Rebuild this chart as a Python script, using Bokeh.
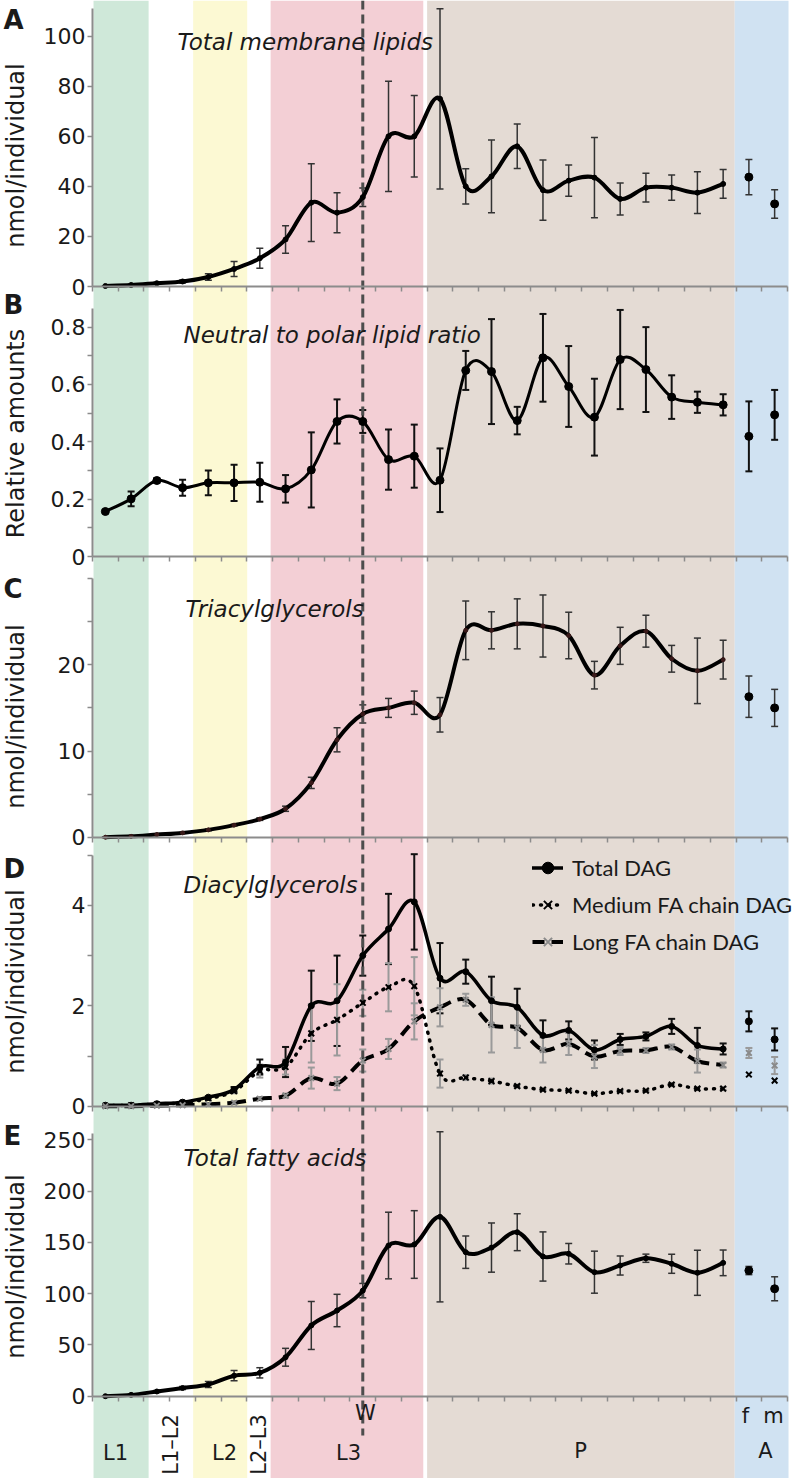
import math
from bokeh.plotting import figure
from bokeh.models import (Range1d, LinearAxis, FixedTicker, BoxAnnotation, Label,
                          Whisker, TeeHead, ColumnDataSource, Legend, LegendItem)
from bokeh.embed import file_html
from bokeh.resources import INLINE

# ---------------------------------------------------------------- data
N_CAT = 27                      # 25 larval/pupal samples + female + male adults
sample_idx = list(range(25))
adult_idx = [25, 26]
adult_names = ["f", "m"]
w_idx = 10                      # wandering stage sample

stage_names = ["L1", "L1\u2013L2", "L2", "L2\u2013L3", "L3", "P", "A"]
stage_start = [0.04, 2.18, 3.91, 6.01, 6.92, 13.0, 24.95]
stage_end = [2.18, 3.91, 6.01, 6.92, 12.85, 24.95, 27.04]
stage_color = ["#cfe8d9", None, "#fcf9d3", None, "#f3cfd5", "#e4dbd4", "#d0e2f2"]

# A  Total membrane lipids (nmol/individual)
membrane_mean = [0.2, 0.6, 1.3, 2.0, 3.8, 7.0, 11.3, 18.8, 33.5, 29.5, 35.7, 60.0, 60.0,
                 75.0, 40.0, 44.0, 56.0, 38.5, 42.3, 43.5, 35.0, 39.5, 39.5, 37.5, 41.0]
membrane_err = [0.1, 0.2, 0.4, 0.6, 1.3, 3.0, 4.0, 5.5, 15.5, 8.0, 3.7, 22.0, 16.3,
                36.0, 7.0, 14.5, 8.9, 12.0, 6.2, 16.0, 6.4, 5.7, 5.0, 8.3, 5.7]
membrane_adult = [43.7, 33.0]
membrane_adult_err = [7.0, 5.7]

# B  Neutral to polar lipid ratio
ratio_mean = [0.157, 0.201, 0.265, 0.240, 0.257, 0.257, 0.259, 0.236, 0.302, 0.471, 0.471,
              0.338, 0.350, 0.266, 0.649, 0.645, 0.474, 0.693, 0.593, 0.486, 0.687, 0.652,
              0.556, 0.538, 0.529]
ratio_err = [0.005, 0.026, 0.008, 0.028, 0.043, 0.063, 0.068, 0.048, 0.131, 0.077, 0.040,
             0.105, 0.110, 0.111, 0.068, 0.183, 0.048, 0.153, 0.141, 0.134, 0.173, 0.148,
             0.076, 0.037, 0.037]
ratio_adult = [0.419, 0.494]
ratio_adult_err = [0.122, 0.087]

# C  Triacylglycerols
tag_mean = [0.0, 0.1, 0.3, 0.5, 0.85, 1.4, 2.1, 3.3, 6.3, 11.3, 14.3, 15.0, 15.6, 14.2,
            24.0, 24.0, 24.75, 24.5, 23.4, 18.8, 22.2, 23.9, 20.7, 19.3, 20.6]
tag_err = [0.05, 0.05, 0.05, 0.05, 0.1, 0.1, 0.15, 0.3, 0.65, 1.4, 1.05, 1.1, 1.35, 2.0,
           3.4, 2.15, 2.9, 3.6, 2.7, 1.6, 2.15, 1.85, 1.55, 3.8, 2.25]
tag_adult = [16.3, 15.0]
tag_adult_err = [2.4, 2.15]

# D  Diacylglycerols
dag_total = [0.02, 0.02, 0.05, 0.08, 0.18, 0.33, 0.78, 0.88, 2.0, 2.1, 3.0, 3.53, 4.07,
             2.55, 2.68, 2.1, 1.97, 1.41, 1.51, 1.12, 1.33, 1.39, 1.59, 1.21, 1.14]
dag_total_err = [0, 0, 0, 0, 0.02, 0.05, 0.15, 0.3, 0.7, 0.9, 0.4, 0.7, 0.95, 0.7, 0.24,
                 0.48, 0.37, 0.3, 0.18, 0.19, 0.11, 0.08, 0.15, 0.35, 0.11]
dag_total_adult = [1.69, 1.33]
dag_total_adult_err = [0.2, 0.22]

dag_medium = [0.01, 0.02, 0.04, 0.07, 0.15, 0.3, 0.7, 0.78, 1.45, 1.72, 2.06, 2.37, 2.39,
              0.65, 0.57, 0.5, 0.4, 0.33, 0.31, 0.25, 0.3, 0.31, 0.43, 0.35, 0.35]
dag_medium_err = [0, 0, 0, 0.01, 0.02, 0.04, 0.13, 0.15, 0.58, 0.71, 0.26, 0.48, 0.58,
                  0.28, 0.05, 0.05, 0.03, 0.02, 0.02, 0.02, 0.02, 0.02, 0.03, 0.03, 0.03]
dag_medium_adult = [0.63, 0.51]

dag_long = [0.0, 0.0, 0.01, 0.02, 0.04, 0.07, 0.15, 0.21, 0.56, 0.45, 0.91, 1.14, 1.69,
            1.97, 2.12, 1.62, 1.56, 1.12, 1.24, 0.99, 1.1, 1.11, 1.18, 0.9, 0.82]
dag_long_err = [0, 0, 0, 0.01, 0.01, 0.02, 0.03, 0.04, 0.21, 0.13, 0.22, 0.2, 0.36, 0.38,
                0.12, 0.55, 0.4, 0.25, 0.22, 0.23, 0.08, 0.05, 0.05, 0.23, 0.05]
dag_long_adult = [1.06, 0.81]
dag_long_adult_err = [0.1, 0.17]

# E  Total fatty acids
fa_mean = [0.0, 1.3, 4.6, 8.0, 11.4, 20.0, 22.8, 38.0, 69.0, 83.6, 103.0, 147.0, 148.0,
           175.0, 140.5, 145.0, 160.0, 136.3, 139.0, 121.0, 127.5, 134.6, 129.2, 120.4, 130.1]
fa_err = [0.3, 0.5, 1.0, 1.5, 3.0, 5.0, 5.0, 8.7, 23.4, 15.8, 7.0, 32.5, 33.0, 83.0, 15.8,
          24.0, 18.0, 24.0, 10.0, 20.5, 9.3, 4.0, 9.3, 22.0, 12.5]
fa_adult = [122.6, 104.8]
fa_adult_err = [4.0, 11.7]

# ---------------------------------------------------------------- style / geometry
FONT = "DejaVu Sans"
AX_GRAY = "#8c8c8c"
TXT = "#1a1a1a"
W, H = 795, 1478                         # canvas; default ranges = page pixels
X0_PX, X_STEP = 92.0, 695.0 / N_CAT      # px of category boundary 0, px per category

p = figure(width=W, height=H, title=None, toolbar_location=None, output_backend="svg",
           x_range=Range1d(0, W), y_range=Range1d(H, 0),
           x_axis_location=None, y_axis_location=None,
           min_border_left=0, min_border_right=0, min_border_top=0, min_border_bottom=0)
p.outline_line_color = None
p.grid.visible = False
p.extra_x_ranges = {"cat": Range1d(-X0_PX / X_STEP, (W - X0_PX) / X_STEP)}

# panels: page y of the zero line, px per unit, axis top, major ticks, minor ticks
panels = {
    "A": dict(zero=286.0, ppu=2.503, top=111, major=[0, 20, 40, 60, 80, 100], minor=[]),
    "B": dict(zero=556.0, ppu=286.7, top=0.865, major=[0, 0.2, 0.4, 0.6, 0.8],
              minor=[0.1, 0.3, 0.5, 0.7]),
    "C": dict(zero=836.7, ppu=8.62, top=30, major=[0, 10, 20], minor=[5, 15, 25, 30]),
    "D": dict(zero=1105.7, ppu=50.2, top=5, major=[0, 2, 4], minor=[1, 3, 5]),
    "E": dict(zero=1395.7, ppu=1.025, top=256, major=[0, 50, 100, 150, 200, 250], minor=[]),
}
for k, s in panels.items():
    p.extra_y_ranges[k] = Range1d(-(H - s["zero"]) / s["ppu"], s["zero"] / s["ppu"])


def cxy(i):
    return i + 0.5


# background stage bands
for s0, s1, col in zip(stage_start, stage_end, stage_color):
    if col:
        p.add_layout(BoxAnnotation(left=s0, right=s1, x_range_name="cat", fill_color=col,
                                   fill_alpha=1.0, line_color=None, level="underlay"))

# W (wandering) dashed line through all panels
p.segment(x0=[cxy(w_idx)], x1=[cxy(w_idx)], y0=[0], y1=[1435], x_range_name="cat",
          line_color="#4d4d4d", line_width=3, line_dash="9 5")

# axes
for k, s in panels.items():
    ya = LinearAxis(x_range_name="cat", y_range_name=k, fixed_location=0,
                    bounds=(0, s["top"]),
                    ticker=FixedTicker(ticks=s["major"], minor_ticks=s["minor"]),
                    major_label_overrides={t: f"{t:g}" for t in s["major"]},
                    axis_line_color=AX_GRAY, axis_line_width=2,
                    major_tick_line_color=AX_GRAY, minor_tick_line_color=AX_GRAY,
                    major_tick_line_width=1.5, minor_tick_line_width=1.5,
                    major_tick_in=0, major_tick_out=5, minor_tick_in=0, minor_tick_out=5,
                    major_label_text_font=FONT, major_label_text_font_size="22px",
                    major_label_text_color=TXT, major_label_standoff=2)
    p.add_layout(ya, "left")
    xa = LinearAxis(x_range_name="cat", y_range_name=k, fixed_location=0, bounds=(0, N_CAT),
                    ticker=FixedTicker(ticks=[], minor_ticks=list(range(N_CAT + 1))),
                    axis_line_color=AX_GRAY, axis_line_width=2,
                    minor_tick_line_color=AX_GRAY, minor_tick_line_width=1.5,
                    minor_tick_in=0, minor_tick_out=5, major_tick_in=0, major_tick_out=0)
    p.add_layout(xa, "below")


def errbars(k, idx, ys, es, color, width, cap=7):
    keep = [(i, y, e) for i, y, e in zip(idx, ys, es) if e > 0]
    src = ColumnDataSource(dict(base=[cxy(q[0]) for q in keep],
                                lower=[q[1] - q[2] for q in keep],
                                upper=[q[1] + q[2] for q in keep]))
    def head():
        return TeeHead(size=cap, line_color=color, line_width=width)
    p.add_layout(Whisker(source=src, base="base", lower="lower", upper="upper",
                         x_range_name="cat", y_range_name=k,
                         line_color=color, line_width=width,
                         upper_head=head(), lower_head=head(), level="underlay"))


def smooth(k, idx, ys, **kw):
    P = [(cxy(i), y) for i, y in zip(idx, ys)]
    n = len(P)
    d = dict(x0=[], y0=[], x1=[], y1=[], c0x=[], c0y=[], c1x=[], c1y=[])
    for i in range(n - 1):
        pm, p0, p1, p2 = P[max(i - 1, 0)], P[i], P[i + 1], P[min(i + 2, n - 1)]
        d["x0"].append(p0[0]); d["y0"].append(p0[1])
        d["x1"].append(p1[0]); d["y1"].append(p1[1])
        d["c0x"].append(p0[0] + (p1[0] - pm[0]) / 6.0)
        d["c0y"].append(p0[1] + (p1[1] - pm[1]) / 6.0)
        d["c1x"].append(p1[0] - (p2[0] - p0[0]) / 6.0)
        d["c1y"].append(p1[1] - (p2[1] - p0[1]) / 6.0)
    return p.bezier(source=ColumnDataSource(d), x0="x0", y0="y0", x1="x1", y1="y1",
                    cx0="c0x", cy0="c0y", cx1="c1x", cy1="c1y",
                    x_range_name="cat", y_range_name=k, **kw)


def pts(k, idx, ys, **kw):
    return p.scatter(x=[cxy(i) for i in idx], y=ys, x_range_name="cat", y_range_name=k, **kw)


def text(x, y, s, size, style="normal", align="left", baseline="middle", angle=0.0,
         font=FONT):
    p.add_layout(Label(x=x, y=y, text=s, text_font=font, text_font_size=size,
                       text_font_style=style, text_align=align, text_baseline=baseline,
                       angle=angle, text_color=TXT))


def decorate(letter, letter_py, ylabel, ylabel_py, title, title_px, title_py):
    text(3, letter_py, letter, "26px", style="bold")
    text(15, ylabel_py, ylabel, "24px", align="center", angle=math.pi / 2)
    text(title_px, title_py, title, "23px", style="italic", baseline="alphabetic")


# ---------------------------------------------------------------- panel A
errbars("A", sample_idx, membrane_mean, membrane_err, "#333333", 1.5)
errbars("A", adult_idx, membrane_adult, membrane_adult_err, "#333333", 1.5)
smooth("A", sample_idx, membrane_mean, line_color="black", line_width=4, line_cap="round")
pts("A", sample_idx, membrane_mean, size=5, color="black")
pts("A", adult_idx, membrane_adult, size=8, color="black")
decorate("A", 19, "nmol/individual", 155, "Total membrane lipids", 177, 41.7)

# ---------------------------------------------------------------- panel B
errbars("B", sample_idx, ratio_mean, ratio_err, "#111111", 2)
errbars("B", adult_idx, ratio_adult, ratio_adult_err, "#111111", 2)
smooth("B", sample_idx, ratio_mean, line_color="black", line_width=3, line_cap="round")
pts("B", sample_idx, ratio_mean, size=8, color="black")
pts("B", adult_idx, ratio_adult, size=8, color="black")
decorate("B", 304, "Relative amounts", 433, "Neutral to polar lipid ratio", 183, 334.3)

# ---------------------------------------------------------------- panel C
errbars("C", sample_idx, tag_mean, tag_err, "#333333", 1.5)
errbars("C", adult_idx, tag_adult, tag_adult_err, "#333333", 1.5)
smooth("C", sample_idx, tag_mean, line_color="black", line_width=4, line_cap="round")
pts("C", sample_idx, tag_mean, size=4, color="#3a1a1a")
pts("C", adult_idx, tag_adult, size=8, color="black")
decorate("C", 588, "nmol/individual", 716, "Triacylglycerols", 185, 608.3)

# ---------------------------------------------------------------- panel D
errbars("D", sample_idx, dag_total, dag_total_err, "#111111", 2)
errbars("D", adult_idx, dag_total_adult, dag_total_adult_err, "#111111", 2)
errbars("D", sample_idx, dag_medium, dag_medium_err, "#9a9a9a", 2)
errbars("D", sample_idx, dag_long, dag_long_err, "#9a9a9a", 2)
errbars("D", adult_idx, dag_long_adult, dag_long_adult_err, "#9a9a9a", 2)
l_tot = smooth("D", sample_idx, dag_total, line_color="black", line_width=3.5,
               line_cap="round")
l_med = smooth("D", sample_idx, dag_medium, line_color="black", line_width=3.5,
               line_cap="round", line_dash="1 7")
l_long = smooth("D", sample_idx, dag_long, line_color="black", line_width=4,
                line_dash="12 7")
s_tot = pts("D", sample_idx, dag_total, size=6, color="black")
s_med = pts("D", sample_idx, dag_medium, marker="x", size=8, line_width=2, color="black")
s_long = pts("D", sample_idx, dag_long, marker="x", size=8, line_width=2, color="#8a8a8a")
pts("D", adult_idx, dag_total_adult, size=7, color="black")
pts("D", adult_idx, dag_medium_adult, marker="x", size=8, line_width=2, color="black")
pts("D", adult_idx, dag_long_adult, marker="x", size=8, line_width=2, color="#8a8a8a")
decorate("D", 868, "nmol/individual", 981, "Diacylglycerols", 183, 884.3)
legend = Legend(items=[LegendItem(label="Total DAG", renderers=[l_tot, s_tot]),
                       LegendItem(label="Medium FA chain DAG", renderers=[l_med, s_med]),
                       LegendItem(label="Long FA chain DAG", renderers=[l_long, s_long])],
                location=(532, H - 956), orientation="vertical",
                background_fill_alpha=0.0, border_line_alpha=0.0,
                padding=0, margin=0, spacing=8, glyph_width=31, glyph_height=29,
                label_height=29, label_standoff=9, label_text_font="Lato",
                label_text_font_size="22px", label_text_color=TXT)
p.add_layout(legend)

# ---------------------------------------------------------------- panel E
errbars("E", sample_idx, fa_mean, fa_err, "#333333", 1.5)
errbars("E", adult_idx, fa_adult, fa_adult_err, "#333333", 1.5)
smooth("E", sample_idx, fa_mean, line_color="black", line_width=4, line_cap="round")
pts("E", sample_idx, fa_mean, size=5, color="black")
pts("E", adult_idx, fa_adult, size=8, color="black")
decorate("E", 1135, "nmol/individual", 1266, "Total fatty acids", 183, 1157.7)

# stage labels under the last panel (page px)
stage_label_px = [(115, 1452, 0.0), (170, 1444, math.pi / 2), (224, 1452, 0.0),
                  (258, 1444, math.pi / 2), (348, 1452, 0.0), (580, 1450, 0.0),
                  (765, 1450, 0.0)]
for name, (lx, ly, ang) in zip(stage_names, stage_label_px):
    text(lx, ly, name, "21px", align="center", angle=ang)
text(365, 1412, "W", "21px", align="center")
for name, lx in zip(adult_names, [745, 773]):
    text(lx, 1415, name, "21px", align="center")

open("out.html", "w").write(file_html(p, INLINE))
